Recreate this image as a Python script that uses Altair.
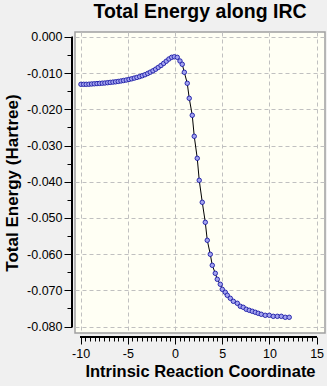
import altair as alt
import pandas as pd
import numpy as np

# ---- data ----
irc = [-9.96, -9.67, -9.40, -9.11, -8.83, -8.55, -8.26, -7.98, -7.70, -7.42,
       -7.13, -6.86, -6.57, -6.29, -6.01, -5.72, -5.44, -5.16, -4.87, -4.59,
       -4.31, -4.03, -3.74, -3.46, -3.18, -2.89, -2.62, -2.33, -2.05, -1.77,
       -1.48, -1.20, -0.92, -0.64, -0.35, -0.07, 0.24, 0.53, 0.77, 0.99,
       1.30, 1.51, 1.83, 2.04, 2.36, 2.57, 2.89, 3.21, 3.42, 3.74,
       3.95, 4.27, 4.48, 4.80, 5.01, 5.33, 5.54, 5.86, 6.18, 6.60,
       6.92, 7.23, 7.55, 7.87, 8.19, 8.51, 8.82, 9.14, 9.56, 9.99,
       10.41, 10.84, 11.26, 11.68, 12.10]
energy = [-0.01307, -0.01307, -0.01307, -0.01304, -0.01298, -0.01293, -0.01287, -0.01282, -0.01276, -0.01271,
          -0.01262, -0.01254, -0.01246, -0.01238, -0.01227, -0.01215, -0.01202, -0.01188, -0.01171, -0.01155,
          -0.01135, -0.01116, -0.01094, -0.01069, -0.01042, -0.01008, -0.00972, -0.00934, -0.00890, -0.00840,
          -0.00787, -0.00729, -0.00669, -0.00608, -0.00561, -0.00547, -0.00561, -0.00663, -0.00754, -0.00975,
          -0.01279, -0.01693, -0.02163, -0.02743, -0.03351, -0.03959, -0.04566, -0.05119, -0.05616, -0.06003,
          -0.06307, -0.06528, -0.06693, -0.06831, -0.06970, -0.07052, -0.07135, -0.07218, -0.07301, -0.07356,
          -0.07439, -0.07467, -0.07522, -0.07550, -0.07577, -0.07605, -0.07633, -0.07660, -0.07688, -0.07688,
          -0.07716, -0.07716, -0.07716, -0.07743, -0.07743]

x_major = [-10, -5, 0, 5, 10, 15]
y_major = [0.000, -0.010, -0.020, -0.030, -0.040, -0.050, -0.060, -0.070, -0.080]
x_ticks = [float(v) for v in np.arange(-10, 15.01, 0.5)]
y_ticks = [round(-0.005 * i, 3) for i in range(17)]

df = pd.DataFrame({"irc": irc, "energy": energy})

FONT = "Liberation Sans"
xscale = alt.Scale(domain=[-10.59, 15.89], nice=False, zero=False)
yscale = alt.Scale(domain=[-0.08177, 0.00138], nice=False, zero=False)

x_is_major = "datum.value % 5 === 0"
y_is_major = "abs(round(datum.value * 1000)) % 10 === 0"

x_axis = alt.Axis(
    values=x_ticks, orient="bottom", offset=4, domain=False,
    tickSize={"condition": {"test": x_is_major, "value": 7}, "value": 4},
    tickColor="black", tickWidth=1,
    labelExpr=f"{x_is_major} ? replace(format(datum.value, 'd'), '\u2212', '-') : ''",
    labelFont=FONT, labelFontSize=12.5, labelColor="black", labelPadding=3,
    labelFlush=False, labelOverlap=False,
    grid=True, gridColor="#c0c0c0", gridDash=[4, 3], gridWidth=1,
    gridOpacity={"condition": {"test": x_is_major, "value": 1}, "value": 0},
    title="Intrinsic Reaction Coordinate", titleFont=FONT, titleFontSize=16.5,
    titleFontWeight="bold", titleColor="black", titlePadding=4,
)
y_axis = alt.Axis(
    values=y_ticks, orient="left", offset=3, domain=False,
    tickSize={"condition": {"test": y_is_major, "value": 8}, "value": 5},
    tickColor="black", tickWidth=1,
    labelExpr=f"{y_is_major} ? replace(format(datum.value, '.3f'), '\u2212', '-') : ''",
    labelFont=FONT, labelFontSize=12.5, labelColor="black", labelPadding=2,
    labelFlush=False, labelOverlap=False,
    grid=True, gridColor="#c0c0c0", gridDash=[4, 3], gridWidth=1,
    gridOpacity={"condition": {"test": y_is_major, "value": 1}, "value": 0},
    title="Total Energy (Hartree)", titleFont=FONT, titleFontSize=17,
    titleFontWeight="bold", titleColor="black", titlePadding=5,
)

X = alt.X("irc:Q", scale=xscale, axis=x_axis)
Y = alt.Y("energy:Q", scale=yscale, axis=y_axis)

base = alt.Chart(df)
line = base.mark_line(color="black", strokeWidth=1).encode(x=X, y=Y)
pts = base.mark_circle(fill="#a3a3ef", stroke="#1c1ca6", strokeWidth=0.9,
                       size=20, opacity=1).encode(x=X, y=Y)

x_dom = alt.Chart(df).mark_rule(color="black", strokeWidth=1).encode(
    x=alt.X(datum=x_major[0], type="quantitative", scale=xscale, axis=x_axis),
    x2=alt.datum(x_major[-1]),
    y=alt.value(305),
)
y_dom = alt.Chart(df).mark_rule(color="black", strokeWidth=1).encode(
    y=alt.Y(datum=y_major[0], type="quantitative", scale=yscale, axis=y_axis),
    y2=alt.datum(y_major[-1]),
    x=alt.value(-3),
)

chart = alt.layer(line, pts, x_dom, y_dom).properties(
    width=250, height=301,
    autosize=alt.AutoSizeParams(type="none"),
    padding={"left": 75, "top": 32, "right": 2, "bottom": 53},
    background="#f0f0f0",
    title=alt.Title("Total Energy along IRC", font=FONT, fontSize=19.5,
                    fontWeight="bold", color="black", anchor="middle", offset=8),
).configure_view(
    fill="#fffff4", stroke="#a0a0a0", strokeWidth=1.5,
)

chart.save("out.html", embed_options={"renderer": "svg", "actions": False})
